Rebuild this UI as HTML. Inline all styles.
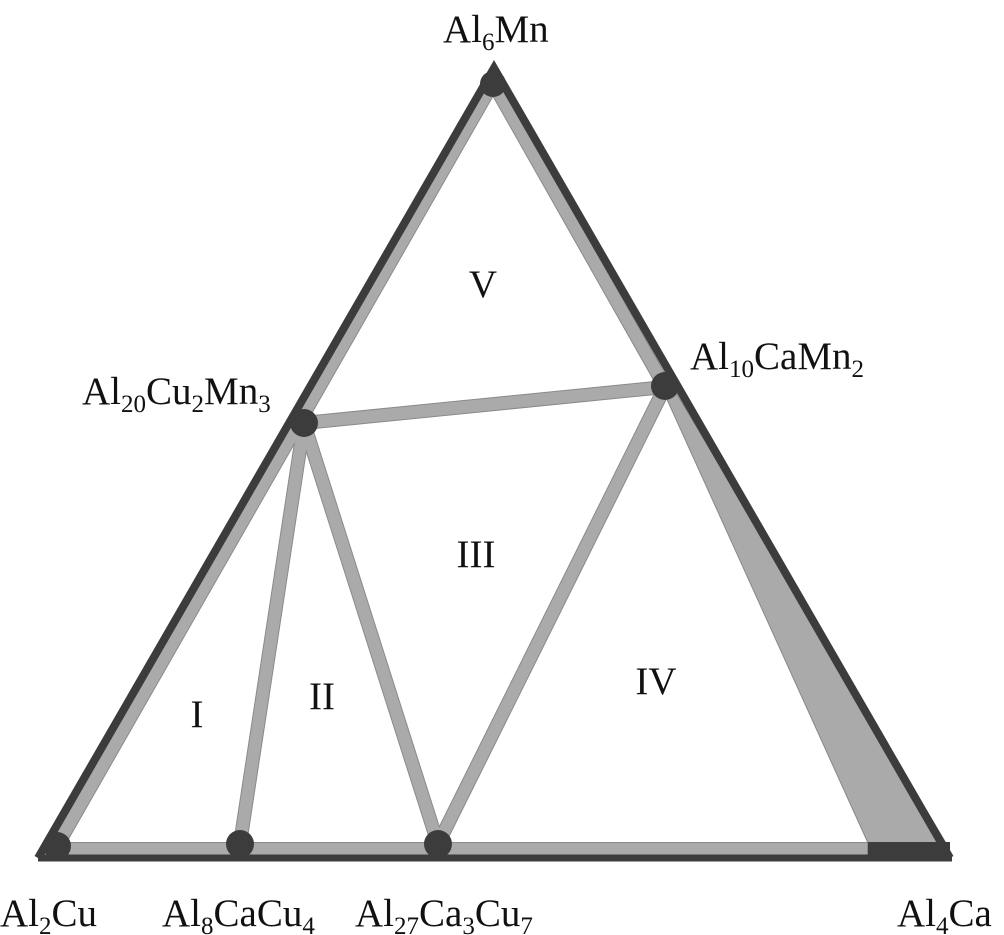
<!DOCTYPE html>
<html><head><meta charset="utf-8"><style>
html,body{margin:0;padding:0;background:#fff;}
svg{display:block;}
text{font-family:"Liberation Serif",serif;fill:#111;}
</style></head><body>
<svg width="1004" height="935" viewBox="0 0 1004 935" xmlns="http://www.w3.org/2000/svg">
<polygon points="660,384 672,386 946,843 868,843" fill="#aaa" stroke="#888" stroke-width="1"/>
<rect x="866" y="842" width="84" height="14" fill="#3c3c3c"/>
<g stroke-linecap="butt" fill="none">
<g stroke="#8a8a8a" stroke-width="14">
<line x1="52" y1="849" x2="868" y2="849"/>
<line x1="57" y1="846" x2="493" y2="83"/>
<line x1="493" y1="83" x2="665" y2="387"/>
<line x1="304" y1="423" x2="665" y2="387"/>
<line x1="304" y1="423" x2="240" y2="844"/>
<line x1="304" y1="423" x2="438" y2="844"/>
<line x1="665" y1="387" x2="438" y2="844"/>
</g>
<g stroke="#aaa" stroke-width="12">
<line x1="52" y1="849" x2="867" y2="849"/>
<line x1="57" y1="846" x2="493" y2="83"/>
<line x1="493" y1="83" x2="665" y2="387"/>
<line x1="304" y1="423" x2="665" y2="387"/>
<line x1="304" y1="423" x2="240" y2="844"/>
<line x1="304" y1="423" x2="438" y2="844"/>
<line x1="665" y1="387" x2="438" y2="844"/>
</g>
</g>
<polyline points="38,858 494,68 950,858" fill="none" stroke="#3c3c3c" stroke-width="8" stroke-linejoin="miter"/>
<line x1="38" y1="858" x2="952" y2="858" stroke="#3c3c3c" stroke-width="7"/>
<g fill="#3c3c3c">
<circle cx="493" cy="84" r="13"/>
<circle cx="304" cy="423" r="14"/>
<circle cx="665" cy="386" r="14"/>
<circle cx="57" cy="846" r="14"/>
<circle cx="240" cy="844" r="14"/>
<circle cx="438" cy="844" r="14"/>
</g>
<g font-size="39">
<text x="443" y="42">Al<tspan font-size="25" dy="8">6</tspan><tspan dy="-8">Mn</tspan></text>
<text x="82" y="404">Al<tspan font-size="25" dy="8">20</tspan><tspan dy="-8">Cu</tspan><tspan font-size="25" dy="8">2</tspan><tspan dy="-8">Mn</tspan><tspan font-size="25" dy="8">3</tspan></text>
<text x="690" y="369">Al<tspan font-size="25" dy="8">10</tspan><tspan dy="-8">CaMn</tspan><tspan font-size="25" dy="8">2</tspan></text>
<text x="0" y="926">Al<tspan font-size="25" dy="8">2</tspan><tspan dy="-8">Cu</tspan></text>
<text x="162" y="926">Al<tspan font-size="25" dy="8">8</tspan><tspan dy="-8">CaCu</tspan><tspan font-size="25" dy="8">4</tspan></text>
<text x="355" y="926">Al<tspan font-size="25" dy="8">27</tspan><tspan dy="-8">Ca</tspan><tspan font-size="25" dy="8">3</tspan><tspan dy="-8">Cu</tspan><tspan font-size="25" dy="8">7</tspan></text>
<text x="897" y="926">Al<tspan font-size="25" dy="8">4</tspan><tspan dy="-8">Ca</tspan></text>
<text x="483" y="297" text-anchor="middle">V</text>
<text x="476" y="567" text-anchor="middle">III</text>
<text x="656" y="694" text-anchor="middle">IV</text>
<text x="322" y="709" text-anchor="middle">II</text>
<text x="197" y="727" text-anchor="middle">I</text>
</g>
</svg>
</body></html>
